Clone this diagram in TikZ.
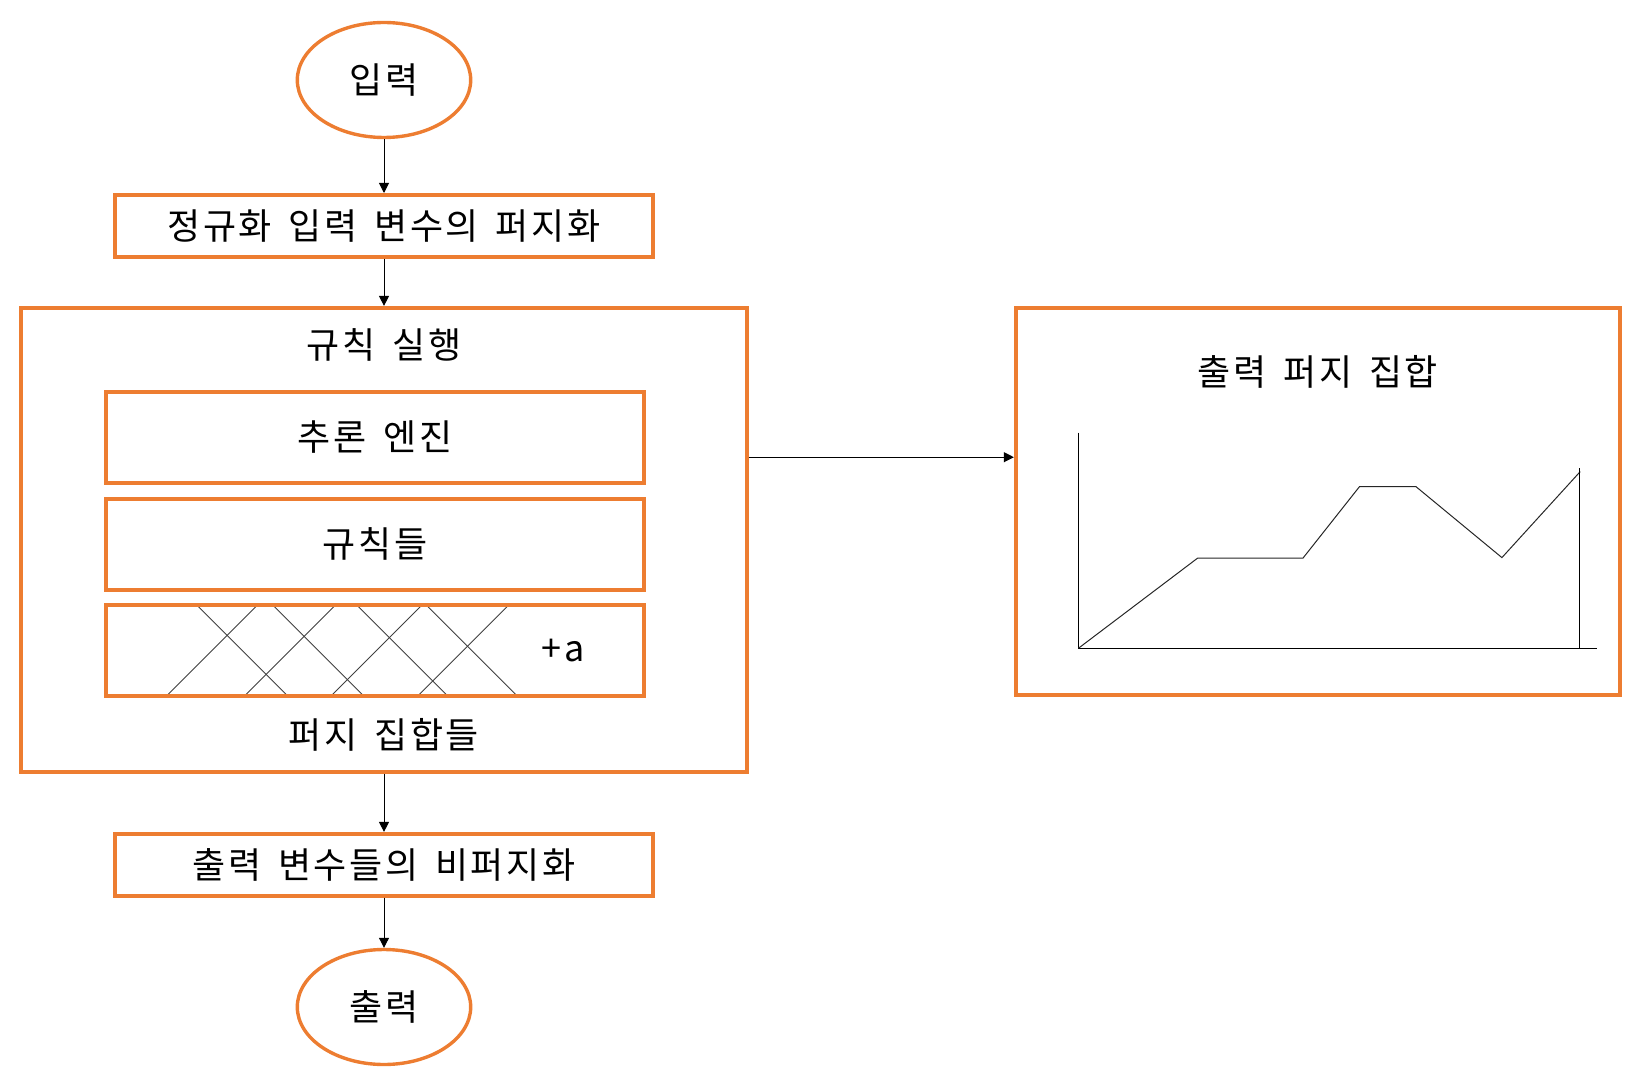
\documentclass[tikz,border=0pt]{standalone}
\usepackage{fontspec}
\setmainfont{Noto Sans CJK KR}[LetterSpace=7,WordSpace=1.6]
\usepackage{tikz}
\usetikzlibrary{positioning,arrows.meta,shapes.geometric,backgrounds}
\usepackage{xcolor}
\definecolor{offorange}{RGB}{237,125,49}

\begin{document}
\begin{tikzpicture}[
    font=\fontsize{18pt}{22pt}\selectfont,
    term/.style={ellipse, draw=offorange, line width=1.7pt, inner sep=0pt,
                 minimum width=86.7pt, minimum height=57.5pt},
    box/.style={draw=offorange, line width=2pt, inner sep=0pt},
    stage/.style={box, minimum width=269.3pt, minimum height=30.8pt},
    part/.style={box, minimum width=268.85pt, minimum height=45.35pt},
    lbl/.style={inner sep=0pt},
    arr/.style={-{Triangle[length=5pt,width=5pt]}, line width=0.5pt, black},
    hatch/.style={line width=0.45pt, black!75},
    axis/.style={line width=0.6pt, black},
    curve/.style={line width=0.5pt, black!85}]
    \useasboundingbox (0,0) rectangle (818.5pt,-540pt);
    % main column
    \node[term] (in) at (192pt,-40pt) {입력};
    \node[stage, below=26.9pt of in] (norm) {정규화 입력 변수의 퍼지화};
    \node[box, below=23.65pt of norm, minimum width=362.85pt, minimum height=232pt] (rules) {};
    \node[stage, below=29pt of rules] (defuzz) {출력 변수들의 비퍼지화};
    \node[term, below=25.15pt of defuzz] (out) {출력};
    \draw[arr] (in) -- (norm);  \draw[arr] (norm) -- (rules);
    \draw[arr] (rules) -- (defuzz);  \draw[arr] (defuzz) -- (out);
    % inside the rule block
    \node[lbl] (rtitle) at ([yshift=-19.5pt]rules.north) {규칙 실행};
    \node[part, below=42pt of rules.north, xshift=-4.45pt] (engine) {추론 엔진};
    \node[part, below=6.15pt of engine] (rulebase) {규칙들};
    \node[part, below=5.65pt of rulebase] (fz) {};
    \node[lbl] (plusa) at ([xshift=94pt]fz.center) {+a};
    \node[lbl] (ftitle) at ([yshift=19.5pt]rules.south) {퍼지 집합들};
    \coordinate (fzc) at ([xshift=1pt,yshift=-1pt]fz.north west);
    \begin{scope}[on background layer]
      \foreach \hx in {45.25,83.2,125.2,159.95}
        \draw[hatch] ([xshift=\hx pt]fzc) -- ++(45.35pt,-45.35pt);
      \foreach \hx in {30.3,69.3,112.6,155.9}
        \draw[hatch] ([xshift=\hx pt,yshift=-45.35pt]fzc) -- ++(45.35pt,45.35pt);
    \end{scope}
    % output fuzzy set
    \node[box, right=132.5pt of rules.north east, anchor=north west,
          minimum width=302.15pt, minimum height=193.5pt] (outset) {};
    \node[lbl] (otitle) at ([yshift=-33pt]outset.north) {출력 퍼지 집합};
    \draw[arr] ([yshift=41.35pt]rules.east) coordinate (src) -- (src -| outset.west);
    \coordinate (org) at ([xshift=-119.75pt,yshift=-73.4pt]outset.center);
    \draw[axis] ([yshift=107.8pt]org) -- (org) -- ++(259.2pt,0);
    \draw[curve, shift={(org)}] (0,0) -- (59.5pt,45pt) -- (112.2pt,45pt) -- (140.5pt,80.8pt)
      -- (168.7pt,80.8pt) -- (211.7pt,45.3pt) -- (250.85pt,88.3pt);
    \draw[axis, shift={(org)}] (250.5pt,0) -- (250.5pt,90pt);
  \end{tikzpicture}
\end{document}
